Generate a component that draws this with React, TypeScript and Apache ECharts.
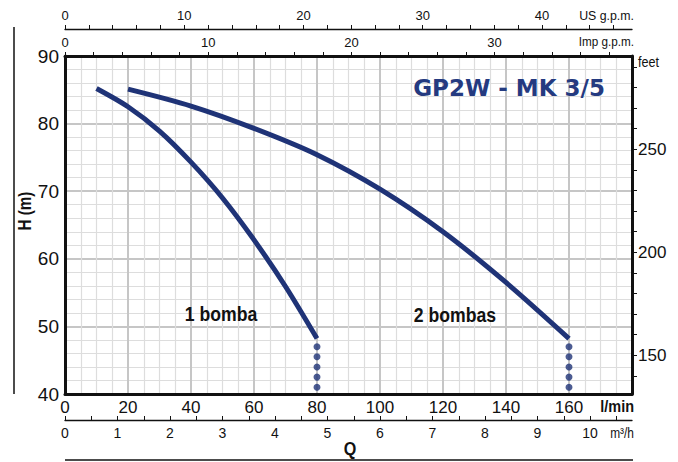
import React, { useEffect, useRef } from 'react';
import * as echarts from 'echarts';

// ---- data ----
const flowOneBomba = [10, 20, 30, 40, 50, 60, 70, 80]; // l/min
const headOneBomba = [85.2, 82.5, 78.9, 74.3, 69.0, 62.8, 55.9, 48.2]; // m
const flowTwoBombas = [20, 40, 60, 80, 100, 120, 140, 160];
const headTwoBombas = [85.1, 82.6, 79.3, 75.4, 70.3, 64.0, 56.5, 48.2];
const dotFlows = [80, 160];
const dotHeads = [47, 45.5, 44, 42.5, 41];

const labelOne = '1 bomba';
const labelTwo = '2 bombas';
const title = 'GP2W - MK 3/5';

// axis ranges / ticks
const flowMin = 0;
const flowMax = 180; // l/min
const headMin = 40;
const headMax = 90;
const feetTicks = [140, 150, 160, 170, 180, 190, 200, 210, 220, 230, 240, 250, 260, 270, 280, 290];
const feetLabels = [150, 200, 250];
const usTicks = [0, 2, 4, 6, 8, 10, 12, 14, 16, 18, 20, 22, 24, 26, 28, 30, 32, 34, 36, 38, 40, 42, 44, 46];
const usLabels = [0, 10, 20, 30, 40];
const impTicks = [0, 2, 4, 6, 8, 10, 12, 14, 16, 18, 20, 22, 24, 26, 28, 30, 32, 34, 36, 38];
const impLabels = [0, 10, 20, 30];
const m3hTicks = [0, 0.5, 1, 1.5, 2, 2.5, 3, 3.5, 4, 4.5, 5, 5.5, 6, 6.5, 7, 7.5, 8, 8.5, 9, 9.5, 10, 10.5];
const m3hLabels = [0, 1, 2, 3, 4, 5, 6, 7, 8, 9, 10];

const FT_PER_M = 3.28084;
const LPM_PER_USGPM = 3.78541;
const LPM_PER_IMPGPM = 4.54609;
const LPM_PER_M3H = 1000 / 60;

const NAVY = '#1f3377';
const FONT = "'Liberation Sans', Arial, sans-serif";

const GL = 65;
const GR = 632;
const GT = 56;
const GB = 394;

export default function App() {
  const ref = useRef<HTMLDivElement>(null);
  useEffect(() => {
    const chart = echarts.init(ref.current!, null, { renderer: 'svg' });
    const black = '#111';
    const lbl = (size: number, extra: any = {}) => ({
      color: black,
      fontFamily: FONT,
      fontSize: size,
      ...extra,
    });
    const txt = (text: string, x: number, y: number, size: number, opts: any = {}) => ({
      type: 'text', x, y, z: 10,
      scaleX: opts.scaleX ?? 1,
      rotation: opts.rotation ?? 0,
      style: {
        text, fill: opts.fill ?? black, fontSize: size,
        fontWeight: opts.bold ? 'bold' : 'normal',
        fontFamily: opts.family ?? FONT,
        align: opts.align ?? 'center', verticalAlign: 'middle',
      },
    });
    const option: any = {
      animation: false,
      grid: { left: GL, right: 678 - GR, top: GT, bottom: 462 - GB, containLabel: false },
      xAxis: [
        {
          type: 'value', position: 'bottom', min: flowMin, max: flowMax, interval: 20,
          axisLine: { show: true, onZero: false, lineStyle: { color: black, width: 3 } },
          axisTick: { show: false },
          axisLabel: { ...lbl(17), margin: 5, formatter: (v: number) => (v === flowMax ? '' : String(v)) },
          splitLine: { show: true, lineStyle: { color: '#c6c6c6', width: 2 } },
          minorTick: { show: false, splitNumber: 4 },
          minorSplitLine: { show: true, lineStyle: { color: '#dddddd', width: 1.2 } },
        },
        {
          type: 'value', position: 'top', offset: 0, min: 0, max: flowMax / LPM_PER_IMPGPM,
          axisLine: { show: true, onZero: false, lineStyle: { color: black, width: 3 } },
          axisTick: { show: true, length: 4, customValues: impTicks, lineStyle: { color: black, width: 1 } },
          axisLabel: { ...lbl(13), margin: 7, customValues: impLabels },
          splitLine: { show: false },
        },
        {
          type: 'value', position: 'top', offset: GT - 29, min: 0, max: flowMax / LPM_PER_USGPM,
          axisLine: { show: true, onZero: false, lineStyle: { color: black, width: 1.3 } },
          axisTick: { show: true, length: 4, customValues: usTicks, lineStyle: { color: black, width: 1 } },
          axisLabel: { ...lbl(13), margin: 7, customValues: usLabels },
          splitLine: { show: false },
        },
        {
          type: 'value', position: 'bottom', offset: 420 - GB, min: 0, max: flowMax / LPM_PER_M3H,
          axisLine: { show: true, onZero: false, lineStyle: { color: black, width: 1.3 } },
          axisTick: { show: true, inside: true, length: 4, customValues: m3hTicks, lineStyle: { color: black, width: 1 } },
          axisLabel: { ...lbl(14), margin: 6, customValues: m3hLabels },
          splitLine: { show: false },
        },
      ],
      yAxis: [
        {
          type: 'value', position: 'left', min: headMin, max: headMax, interval: 10,
          axisLine: { show: true, onZero: false, lineStyle: { color: black, width: 3 } },
          axisTick: { show: false },
          axisLabel: { ...lbl(19), margin: 6 },
          splitLine: { show: true, lineStyle: { color: '#c6c6c6', width: 2 } },
          minorTick: { show: false, splitNumber: 5 },
          minorSplitLine: { show: true, lineStyle: { color: '#dddddd', width: 1.2 } },
        },
        {
          type: 'value', position: 'right', min: headMin * FT_PER_M, max: headMax * FT_PER_M,
          axisLine: { show: true, onZero: false, lineStyle: { color: black, width: 3 } },
          axisTick: { show: true, length: 5, customValues: feetTicks, lineStyle: { color: black, width: 1 } },
          axisLabel: { ...lbl(17), margin: 6, customValues: feetLabels },
          splitLine: { show: false },
        },
      ],
      series: [
        {
          type: 'line', name: labelOne, xAxisIndex: 0, yAxisIndex: 0,
          data: flowOneBomba.map((q, i) => [q, headOneBomba[i]]),
          smooth: 0.3, showSymbol: false,
          lineStyle: { color: NAVY, width: 5, cap: 'butt' }, z: 5,
        },
        {
          type: 'line', name: labelTwo, xAxisIndex: 0, yAxisIndex: 0,
          data: flowTwoBombas.map((q, i) => [q, headTwoBombas[i]]),
          smooth: 0.3, showSymbol: false,
          lineStyle: { color: NAVY, width: 5, cap: 'butt' }, z: 5,
        },
        {
          type: 'scatter', xAxisIndex: 0, yAxisIndex: 0,
          data: dotFlows.flatMap((q) => dotHeads.map((h) => [q, h])),
          symbol: 'circle', symbolSize: 7, itemStyle: { color: NAVY }, z: 6,
        },
      ],
      graphic: [
        { type: 'line', shape: { x1: 14, y1: 27, x2: 14, y2: 394 }, style: { stroke: black, lineWidth: 1.5 } },
        { type: 'line', shape: { x1: GL, y1: 460, x2: GR + 1, y2: 460 }, style: { stroke: black, lineWidth: 1.5 } },
        txt(title, 605, 88, 23, { bold: true, fill: '#243a80', family: "'DejaVu Sans', sans-serif", align: 'right' }),
        txt(labelOne, 221, 313, 21, { bold: true, scaleX: 0.84 }),
        txt(labelTwo, 455, 314, 21, { bold: true, scaleX: 0.84 }),
        txt('H (m)', 24, 211, 19, { bold: true, scaleX: 0.8, rotation: Math.PI / 2 }),
        txt('Q', 350, 449, 19, { bold: true, scaleX: 0.85 }),
        txt('l/min', 634, 406, 17, { bold: true, scaleX: 0.85, align: 'right' }),
        txt('m³/h', 634, 433, 14, { scaleX: 0.85, align: 'right' }),
        txt('US g.p.m.', 634, 16, 13, { scaleX: 0.95, align: 'right' }),
        txt('Imp g.p.m.', 634, 42, 13, { scaleX: 0.9, align: 'right' }),
        txt('feet', 638, 62, 14, { scaleX: 0.9, align: 'left' }),
      ],
    };
    chart.setOption(option);
    return () => chart.dispose();
  }, []);
  return <div ref={ref} style={{ position: 'fixed', left: 0, top: 0, width: 678, height: 462, background: '#fff' }} />;
}
